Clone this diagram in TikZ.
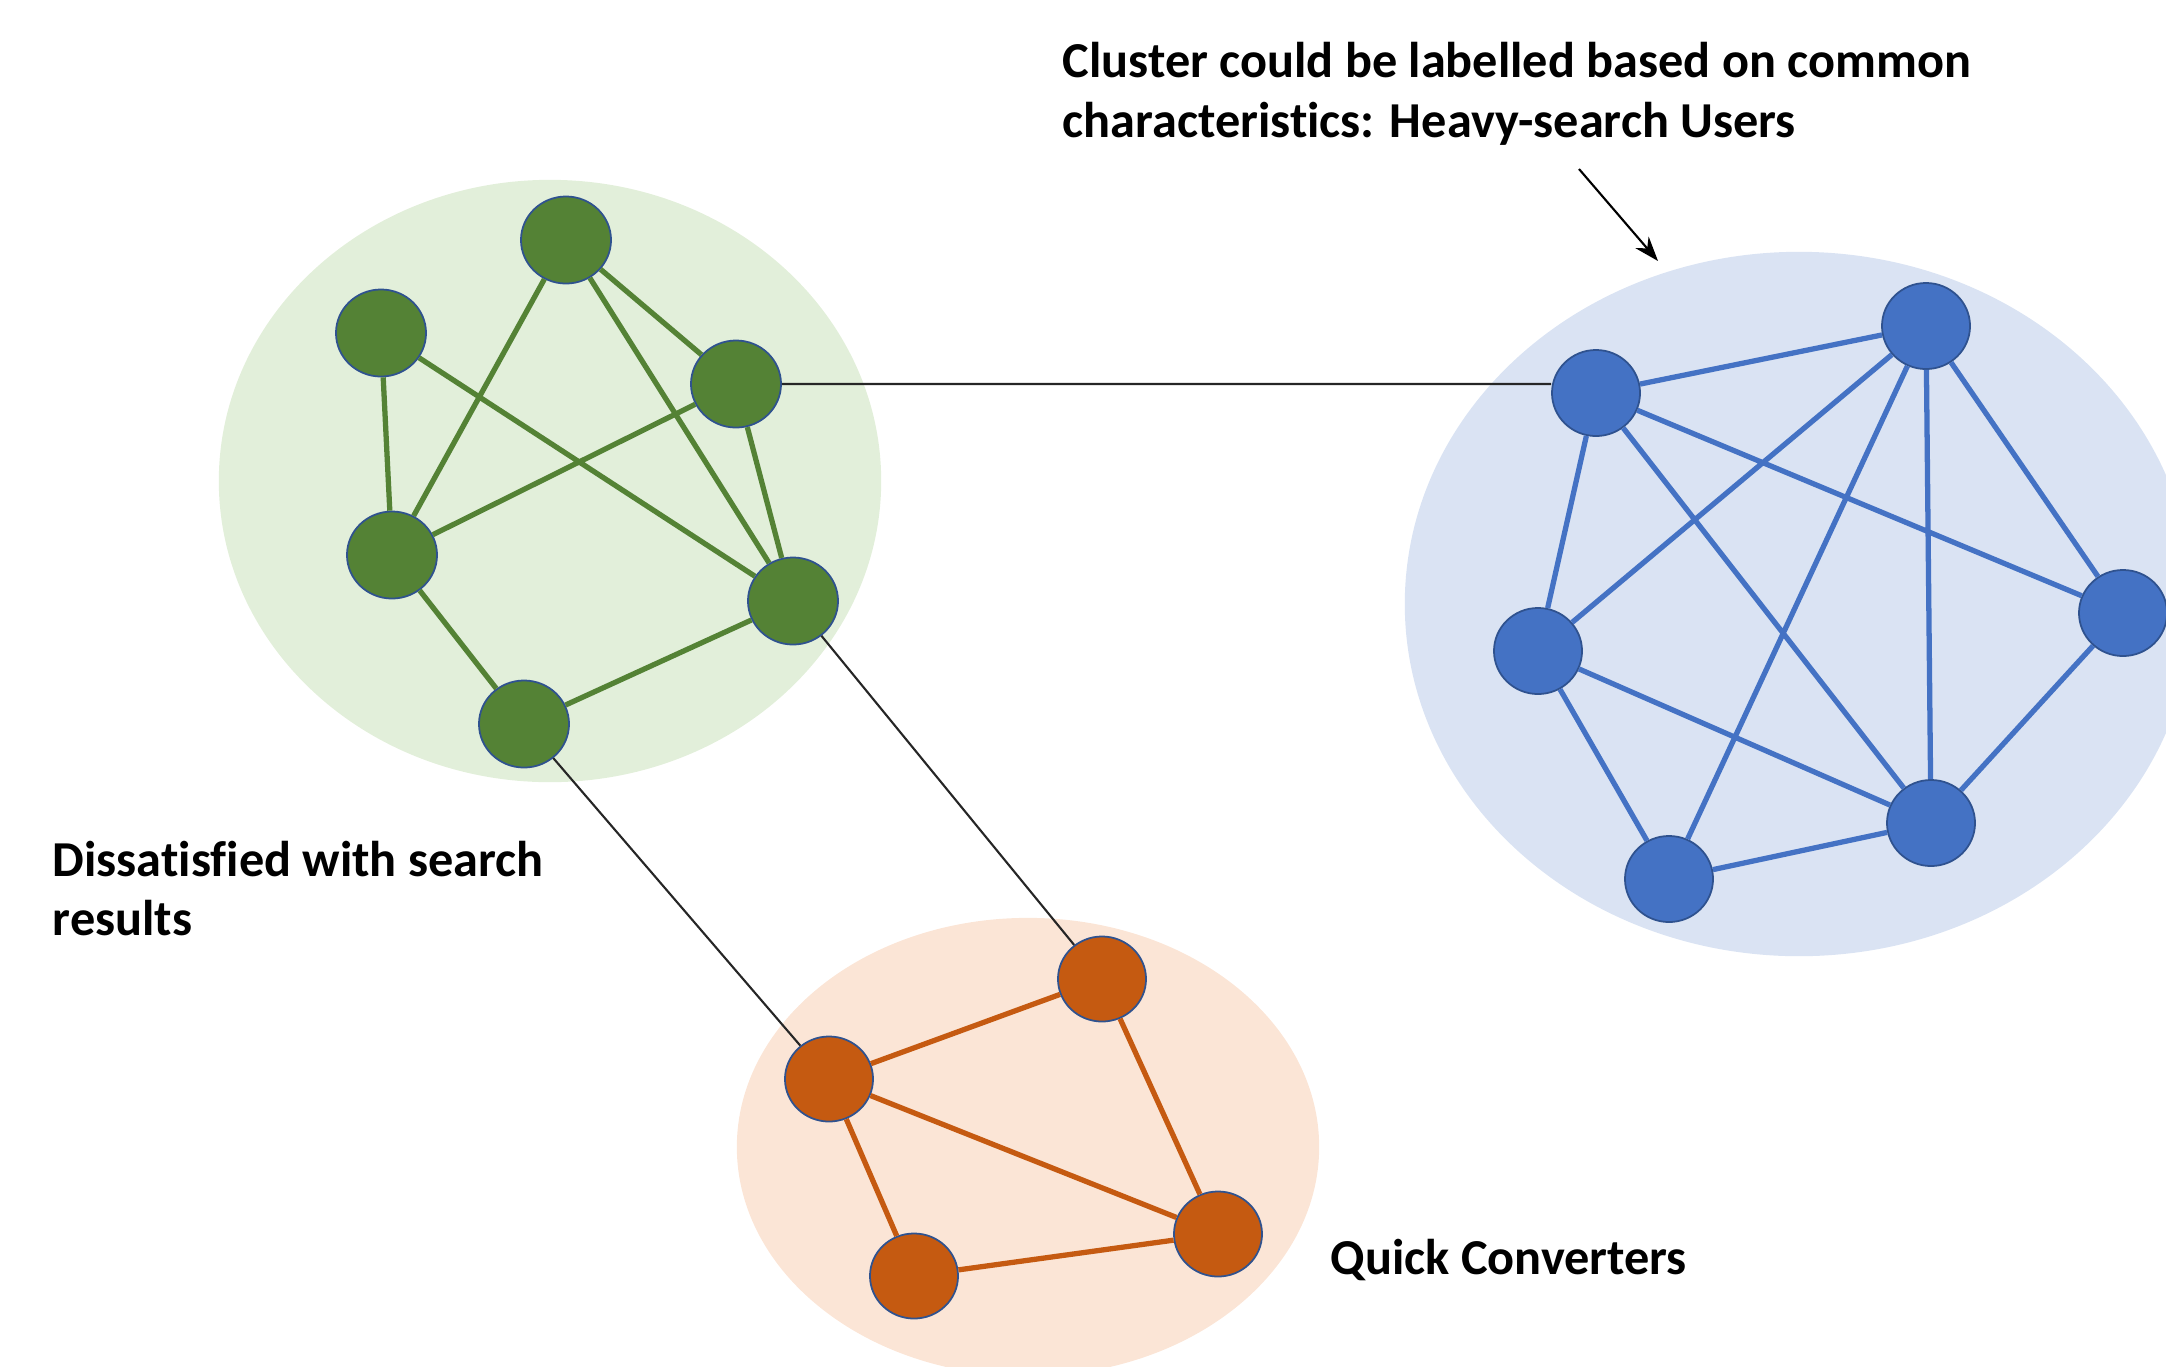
\documentclass[tikz,border=0pt]{standalone}
\usepackage{fontspec}
\setmainfont{Carlito}[Ligatures=NoCommon]
\usetikzlibrary{shapes.geometric,arrows.meta}
\definecolor{gnode}{HTML}{548235}
\definecolor{gfill}{HTML}{E2EFDA}
\definecolor{bnode}{HTML}{4472C4}
\definecolor{bfill}{HTML}{DAE3F3}
\definecolor{onode}{HTML}{C55A11}
\definecolor{ofill}{HTML}{FBE5D6}
\definecolor{rim}{HTML}{2F528F}
\tikzset{
  vtx/.style={ellipse, draw=rim, line width=0.5pt, inner sep=0pt},
  gv/.style={vtx, fill=gnode, minimum width=0.9cm, minimum height=0.87cm},
  bv/.style={vtx, fill=bnode, minimum width=0.88cm, minimum height=0.86cm},
  ov/.style={vtx, fill=onode, minimum width=0.88cm, minimum height=0.85cm},
  ge/.style={draw=gnode, line width=1.5pt},
  be/.style={draw=bnode, line width=1.5pt},
  oe/.style={draw=onode, line width=1.5pt},
  link/.style={draw=black!85, line width=0.6pt},
  lbl/.style={inner sep=0pt, font=\bfseries\fontsize{14.3}{16.8}\selectfont, align=left}
}
\begin{document}
\begin{tikzpicture}[x=0.01cm,y=-0.01cm]
\useasboundingbox (0,0) rectangle (2166,1366);
\clip (0,0) rectangle (2166,1366);
% cluster backgrounds
\fill[gfill] (550,481) ellipse [x radius=3.31cm, y radius=3.01cm];
\fill[bfill] (1799,604) ellipse [x radius=3.94cm, y radius=3.52cm];
\fill[ofill] (1028,1147) ellipse [x radius=2.91cm, y radius=2.29cm];
% green nodes
\node[gv] (g1) at (566,240) {};
\node[gv] (g2) at (381,333) {};
\node[gv] (g3) at (736,384) {};
\node[gv] (g4) at (392,555) {};
\node[gv] (g5) at (793,601) {};
\node[gv] (g6) at (524,724) {};
% blue nodes
\node[bv] (b1) at (1596,393) {};
\node[bv] (b2) at (1926,326) {};
\node[bv] (b3) at (1538,651) {};
\node[bv] (b4) at (2123,613) {};
\node[bv] (b5) at (1931,823) {};
\node[bv] (b6) at (1669,879) {};
% orange nodes
\node[ov] (o1) at (1102,979) {};
\node[ov] (o2) at (829,1079) {};
\node[ov] (o3) at (1218,1234) {};
\node[ov] (o4) at (914,1276) {};
% edges
\path[ge] (g1)--(g3) (g1)--(g4) (g1)--(g5) (g2)--(g4) (g2)--(g5)
          (g3)--(g4) (g3)--(g5) (g4)--(g6) (g5)--(g6);
\path[be] (b1)--(b2) (b1)--(b3) (b1)--(b5) (b1)--(b4) (b2)--(b3) (b2)--(b6)
          (b2)--(b5) (b2)--(b4) (b3)--(b5) (b3)--(b6) (b6)--(b5) (b5)--(b4);
\path[oe] (o1)--(o2) (o1)--(o3) (o2)--(o3) (o2)--(o4) (o4)--(o3);
% inter-cluster links
\path[link] (g3.east)--(g3.east -| b1.west) (g5)--(o1) (g6)--(o2);
% annotation arrow
\coordinate (a0) at (1579,169);
\coordinate (a1) at (1658,261);
\draw[line width=0.6pt, -{Stealth[length=7pt,width=5pt]}] (a0)--(a1);
% labels
\node[lbl, anchor=north west] (t1) at (1062,42) {Cluster could be labelled based on common\\characteristics: Heavy-search Users};
\node[lbl, anchor=north west] (t2) at (52,840) {Dissatisfied with search\\results};
\node[lbl, anchor=base west] (t3) at (1330,1274) {Quick Converters};
\end{tikzpicture}
\end{document}
